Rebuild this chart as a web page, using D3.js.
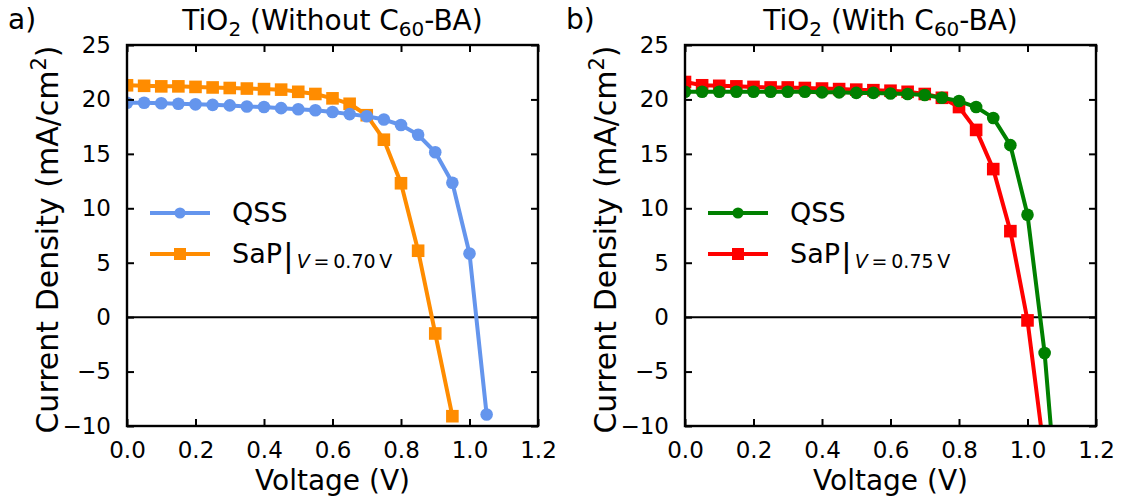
<!DOCTYPE html>
<html lang="en">
	<head>
		<meta charset="utf-8">
		<title>J-V curves</title>
		<script type="text/javascript" src="https://cdn.jsdelivr.net/npm/d3@7"></script>
		<style type="text/css">
			body { margin: 0; background: #fff; }
			text { font-family: "DejaVu Sans", sans-serif; fill: #000; }
		</style>
	</head>
	<body>
		<script type="text/javascript">
			//Width and height
			var w = 1122;
			var h = 498;

			//Voltage steps (V)
			var voltage = [0.00, 0.05, 0.10, 0.15, 0.20, 0.25, 0.30, 0.35, 0.40, 0.45, 0.50,
			               0.55, 0.60, 0.65, 0.70, 0.75, 0.80, 0.85, 0.90, 0.95, 1.00, 1.05, 1.10];

			//Panel a) current density (mA/cm2)
			var qssA = [19.7, 19.7, 19.65, 19.6, 19.55, 19.5, 19.45, 19.35, 19.3, 19.2, 19.1,
			            19.0, 18.85, 18.65, 18.45, 18.15, 17.65, 16.75, 15.15, 12.35, 5.85, -8.95];
			var sapA = [21.3, 21.25, 21.2, 21.2, 21.15, 21.1, 21.05, 21.0, 20.95, 20.9, 20.7,
			            20.5, 20.1, 19.6, 18.55, 16.3, 12.3, 6.1, -1.5, -9.1];

			//Panel b) current density (mA/cm2)
			var qssB = [20.7, 20.7, 20.7, 20.7, 20.7, 20.7, 20.7, 20.7, 20.65, 20.65, 20.6,
			            20.6, 20.55, 20.5, 20.4, 20.15, 19.85, 19.3, 18.3, 15.8, 9.4, -3.3, -22.0];
			var sapB = [21.6, 21.3, 21.25, 21.2, 21.15, 21.1, 21.1, 21.05, 21.0, 20.95, 20.9,
			            20.85, 20.8, 20.7, 20.5, 20.15, 19.3, 17.2, 13.6, 7.9, -0.3, -12.7];

			var xTicks = [0.0, 0.2, 0.4, 0.6, 0.8, 1.0, 1.2];
			var yTicks = [-10, -5, 0, 5, 10, 15, 20, 25];

			var panels = [
				{ tag: "a)", title: ["Without C", "60", "-BA)"], left: 127, qss: qssA, sap: sapA,
				  qssColor: "#6495ED", sapColor: "#FF8C00", bias: "0.70" },
				{ tag: "b)", title: ["With C", "60", "-BA)"], left: 685, qss: qssB, sap: sapB,
				  qssColor: "#008000", sapColor: "#FF0000", bias: "0.75" }
			];

			var plotW = 411, plotTop = 45, plotBottom = 426;
			var ms = 6.3; // marker half size

			//Create SVG element
			var svg = d3.select("body")
						.append("svg")
						.attr("width", w)
						.attr("height", h);

			panels.forEach(function(p, i) {
				var x = d3.scaleLinear().domain([0, 1.2]).range([p.left, p.left + plotW]);
				var y = d3.scaleLinear().domain([-10, 25]).range([plotBottom, plotTop]);

				var g = svg.append("g");

				g.append("clipPath").attr("id", "clip" + i)
					.append("rect")
					.attr("x", x(0)).attr("y", y(25))
					.attr("width", x(1.2) - x(0)).attr("height", y(-10) - y(25));

				//zero line
				g.append("line")
					.attr("x1", x(0)).attr("x2", x(1.2))
					.attr("y1", y(0)).attr("y2", y(0))
					.style("stroke", "#000").style("stroke-width", 2);

				function series(vals, color, shape) {
					var pts = vals.map(function(v, k) { return [voltage[k], v]; });
					var line = d3.line().x(function(d) { return x(d[0]); }).y(function(d) { return y(d[1]); });
					var s = g.append("g").attr("clip-path", "url(#clip" + i + ")");
					s.append("path")
						.attr("d", line(pts))
						.style("fill", "none")
						.style("stroke", color)
						.style("stroke-width", 4)
						.style("stroke-linejoin", "round");
					var visible = pts.filter(function(d) { return d[1] >= -10; });
					if (shape == "circle") {
						s.selectAll("circle.m").data(visible).enter().append("circle")
							.attr("cx", function(d) { return x(d[0]); })
							.attr("cy", function(d) { return y(d[1]); })
							.attr("r", ms)
							.style("fill", color);
					} else {
						s.selectAll("rect.m").data(visible).enter().append("rect")
							.attr("x", function(d) { return x(d[0]) - ms; })
							.attr("y", function(d) { return y(d[1]) - ms; })
							.attr("width", 2 * ms).attr("height", 2 * ms)
							.style("fill", color);
					}
				}
				series(p.sap, p.sapColor, "square");
				series(p.qss, p.qssColor, "circle");

				//axes, ticks pointing inward
				var fmtY = function(d) { return d < 0 ? "\u2212" + Math.abs(d) : d; };
				var axes = [
					g.append("g").attr("transform", "translate(0," + plotBottom + ")")
						.call(d3.axisBottom(x).tickValues(xTicks).tickSize(-7).tickPadding(16).tickFormat(d3.format(".1f"))),
					g.append("g").attr("transform", "translate(0," + plotTop + ")")
						.call(d3.axisTop(x).tickValues(xTicks).tickSize(-7).tickFormat("")),
					g.append("g").attr("transform", "translate(" + x(0) + ",0)")
						.call(d3.axisLeft(y).tickValues(yTicks).tickSize(-7).tickPadding(16).tickFormat(fmtY)),
					g.append("g").attr("transform", "translate(" + x(1.2) + ",0)")
						.call(d3.axisRight(y).tickValues(yTicks).tickSize(-7).tickFormat(""))
				];
				axes.forEach(function(a) {
					a.select(".domain").remove();
					a.selectAll(".tick line").style("stroke", "#000").style("stroke-width", 2);
					a.selectAll(".tick text").style("font-size", "23px").style("font-family", "DejaVu Sans");
				});

				//frame
				g.append("rect")
					.attr("x", x(0)).attr("y", y(25))
					.attr("width", x(1.2) - x(0)).attr("height", y(-10) - y(25))
					.style("fill", "none").style("stroke", "#000").style("stroke-width", 2.4);

				//labels
				var cx = (x(0) + x(1.2)) / 2;
				g.append("text")
					.attr("x", cx).attr("y", 490)
					.attr("text-anchor", "middle")
					.style("font-size", "28px")
					.text("Voltage (V)");

				var yl = g.append("text")
					.attr("transform", "translate(" + (p.left - 69) + "," + ((plotTop + plotBottom) / 2 + 4) + ") rotate(-90)")
					.attr("text-anchor", "middle")
					.style("font-size", "30px");
				yl.append("tspan").text("Current Density (mA/cm");
				yl.append("tspan").attr("dy", -12).style("font-size", "21px").text("2");
				yl.append("tspan").attr("dy", 12).text(")");

				var t = g.append("text")
					.attr("x", cx).attr("y", 30)
					.attr("text-anchor", "middle")
					.style("font-size", "28px");
				t.append("tspan").text("TiO");
				t.append("tspan").attr("dy", 6).style("font-size", "20px").text("2");
				t.append("tspan").attr("dy", -6).text(" (" + p.title[0]);
				t.append("tspan").attr("dy", 6).style("font-size", "20px").text(p.title[1]);
				t.append("tspan").attr("dy", -6).text(p.title[2]);

				g.append("text")
					.attr("x", p.left - 119).attr("y", 29)
					.style("font-size", "28px")
					.text(p.tag);

				//legend
				var lx = p.left + 23;
				var items = [
					{ y: 213, color: p.qssColor, shape: "circle", label: "QSS" },
					{ y: 254, color: p.sapColor, shape: "square", label: "SaP" }
				];
				items.forEach(function(it) {
					g.append("line")
						.attr("x1", lx).attr("x2", lx + 60)
						.attr("y1", it.y).attr("y2", it.y)
						.style("stroke", it.color).style("stroke-width", 4);
					if (it.shape == "circle") {
						g.append("circle").attr("cx", lx + 30).attr("cy", it.y).attr("r", 5.6).style("fill", it.color);
					} else {
						g.append("rect").attr("x", lx + 24).attr("y", it.y - 6)
							.attr("width", 12).attr("height", 12).style("fill", it.color);
					}
					var lt = g.append("text")
						.attr("x", lx + 82).attr("y", it.y + 9)
						.style("font-size", "27px");
					lt.append("tspan").text(it.label);
					if (it.label == "SaP") {
						lt.append("tspan").attr("dx", 1).attr("dy", 3).style("font-size", "32px").text("|");
						lt.append("tspan").attr("dx", 3).attr("dy", 2).style("font-size", "19px")
							.style("font-style", "italic").text("V");
						lt.append("tspan").style("font-size", "19px").text("\u2009=\u2009" + p.bias + "\u2009V");
					}
				});
			});
		</script>
	</body>
</html>
